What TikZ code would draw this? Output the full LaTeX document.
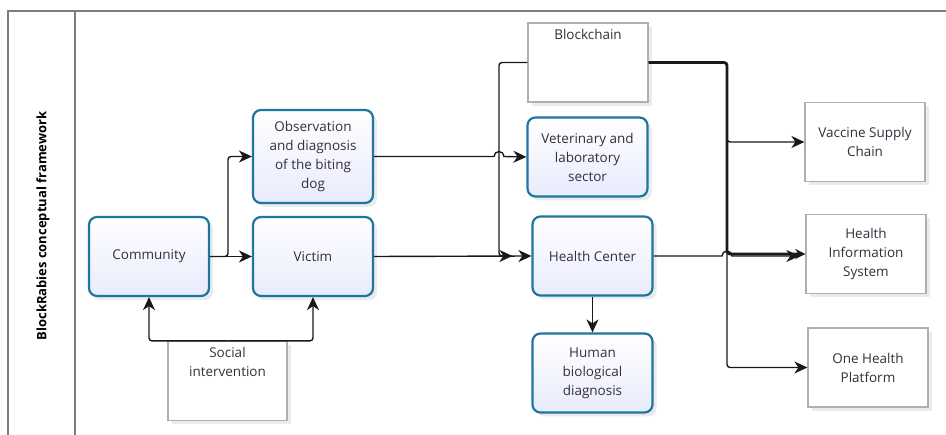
\documentclass[tikz,border=0pt]{standalone}
\usepackage{fontspec}
\setmainfont{Open Sans}
\usetikzlibrary{arrows.meta,shadows,calc}
\definecolor{bborder}{RGB}{30,118,160}
\definecolor{bfill}{RGB}{232,235,252}
\definecolor{gborder}{RGB}{175,175,175}
\definecolor{frame}{RGB}{125,125,125}
\definecolor{txt}{RGB}{55,45,60}
\tikzset{
  bluebox/.style={draw=bborder, line width=2.2pt, rounded corners=8pt, top color=white, bottom color=bfill,
    minimum width=120pt, minimum height=79pt, align=center, font=\fontsize{13.5}{19}\selectfont, text=txt,
    drop shadow={opacity=0.16, shadow xshift=4pt, shadow yshift=-4pt}},
  graybox/.style={draw=gborder, line width=1.2pt, fill=white,
    minimum width=120pt, minimum height=79pt, align=center, font=\fontsize{13.5}{19}\selectfont, text=txt,
    drop shadow={opacity=0.16, shadow xshift=4pt, shadow yshift=-4pt}},
  conn/.style={draw=black!90, line width=1.4pt, rounded corners=3pt, -{Stealth[length=13pt,width=12pt,inset=4pt]}},
  heavy/.style={conn, line width=2.8pt, -{Stealth[length=10pt,width=10pt,inset=3pt]}},
  toptext/.style={font=\fontsize{13.5}{19}\selectfont, text=txt, align=center}
}
\begin{document}
\begin{tikzpicture}[x=1pt,y=-1pt]
\useasboundingbox (0,0) rectangle (946,435);
% frame
\draw[frame, line width=1.8pt] (8,435) -- (8,11) -- (946,11);
\draw[frame, line width=1.8pt] (75,11) -- (75,435);
\node[rotate=90, font=\bfseries\fontsize{13}{14}\selectfont] (title) at (43,226) {BlockRabies conceptual framework};
% nodes
\node[bluebox] (com) at (149,256.5) {Community};
\node[bluebox] (vic) at (313,256.5) {Victim};
\node[bluebox, minimum height=93pt] (obs) at (313,156.5) {Observation\\and diagnosis\\of the biting\\dog};
\node[graybox, minimum width=119pt] (soc) at (227.5,381) {};
\node[toptext, anchor=north] (soct) at ([yshift=-3pt]soc.north) {Social\\intervention};
\node[graybox] (bc) at (588,62.5) {};
\node[toptext, anchor=north] (bct) at ([yshift=-3pt]bc.north) {Blockchain};
\node[bluebox] (vet) at (587.5,157) {Veterinary and\\laboratory\\sector};
\node[bluebox] (hc) at (592.5,256) {Health Center};
\node[bluebox] (hb) at (592.5,373) {Human\\biological\\diagnosis};
\node[graybox] (vsc) at (865,142) {Vaccine Supply\\Chain};
\node[graybox] (his) at (866,254) {Health\\Information\\System};
\node[graybox] (ohp) at (868,367.5) {One Health\\Platform};
% helper coordinates
\coordinate (jx) at (499,0);
\coordinate (kx) at (727,0);
\coordinate (cx) at (228,0);
% connectors
\draw[conn] (com.east) -- (vic.west);
\draw[conn] (com.east) -- (cx |- com.east) |- (obs.west);
\draw[conn] (soc.north) -| (com.south);
\draw[conn] (soc.north) -| (vic.south);
\draw[conn, rounded corners=0pt] (obs.east) -- ([xshift=-5pt]jx |- obs.east) arc[start angle=180, end angle=360, radius=5] -- (vet.west);
\draw[conn] (vic.east) -- (hc.west);
\draw[conn, shorten >=19pt] (bc.west) -- (jx |- bc.west) -- (jx |- hc.west) -- (hc.west);
\draw[conn] (hc.south) -- (hb.north);
\draw[heavy] (bc.east) -- (kx |- bc.east) -- (kx |- his.west) -- (his.west);
\draw[conn] (bc.east) -- (kx |- bc.east) |- (vsc.west);
\draw[conn] (bc.east) -- (kx |- bc.east) |- (ohp.west);
\draw[conn, rounded corners=0pt, shorten >=6pt] (hc.east) -- ([xshift=-5pt]kx |- hc.east) arc[start angle=180, end angle=360, radius=5] -- (his.west |- hc.east);
\end{tikzpicture}
\end{document}
